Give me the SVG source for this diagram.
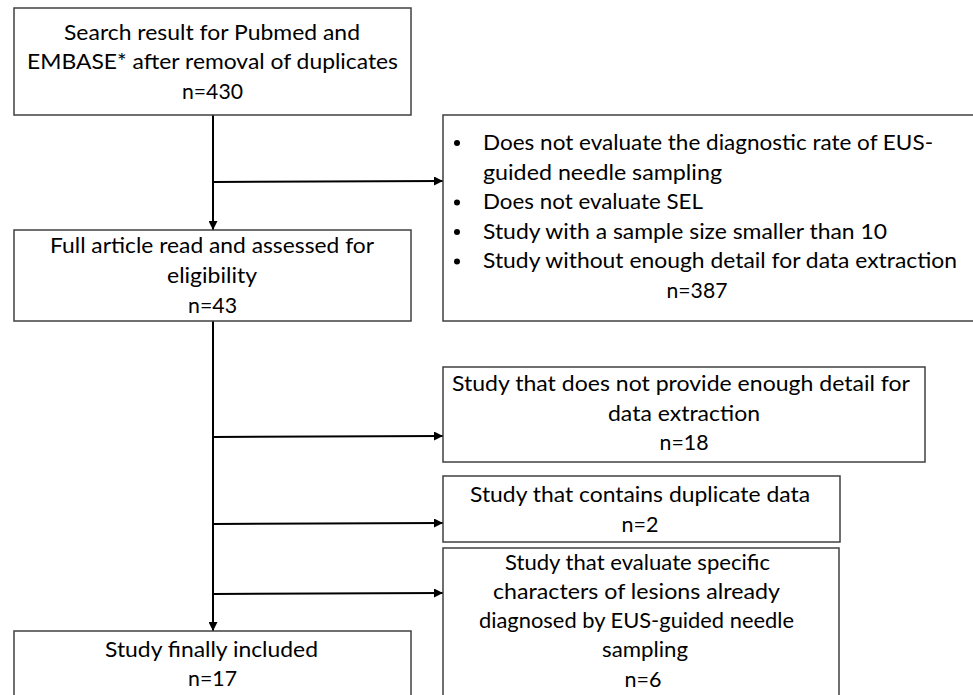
<svg xmlns="http://www.w3.org/2000/svg" width="973" height="695" viewBox="0 0 973 695">
<defs>
<marker id="ah" viewBox="0 0 10 10" refX="10" refY="5" markerWidth="5" markerHeight="4.5" orient="auto" markerUnits="strokeWidth"><path d="M0,0 L10,5 L0,10 z" fill="#000"/></marker>
<style>
.box{fill:#fff;stroke:#404040;stroke-width:1.5}
.t{font-family:Lato,"Liberation Sans",sans-serif;font-size:22px;fill:#000}
.c{text-anchor:middle}
.ln{stroke:#000;stroke-width:2;fill:none}
</style>
</defs>
<rect width="973" height="695" fill="#fff"/>
<g id="connectors">
<line class="ln" x1="213" y1="115" x2="213" y2="230" marker-end="url(#ah)"/>
<line class="ln" x1="213" y1="182" x2="443" y2="181" marker-end="url(#ah)"/>
<line class="ln" x1="213" y1="321" x2="213" y2="631" marker-end="url(#ah)"/>
<line class="ln" x1="213" y1="437" x2="443" y2="436" marker-end="url(#ah)"/>
<line class="ln" x1="213" y1="524" x2="443" y2="523" marker-end="url(#ah)"/>
<line class="ln" x1="213" y1="594" x2="443" y2="593" marker-end="url(#ah)"/>
</g>
<g id="search">
<rect class="box" x="14" y="8" width="397" height="107"/>
<text class="t c" x="212" y="40" textLength="296" lengthAdjust="spacingAndGlyphs">Search result for Pubmed and</text>
<text class="t c" x="212.5" y="69" textLength="371" lengthAdjust="spacingAndGlyphs">EMBASE* after removal of duplicates</text>
<text class="t c" x="212.5" y="99" textLength="61" lengthAdjust="spacingAndGlyphs">n=430</text>
</g>
<g id="fullarticle">
<rect class="box" x="14" y="230" width="397" height="91"/>
<text class="t c" x="212" y="253" textLength="324" lengthAdjust="spacingAndGlyphs">Full article read and assessed for</text>
<text class="t c" x="212" y="283" textLength="90" lengthAdjust="spacingAndGlyphs">eligibility</text>
<text class="t c" x="212.5" y="313" textLength="49" lengthAdjust="spacingAndGlyphs">n=43</text>
</g>
<g id="excluded1">
<rect class="box" x="443" y="115" width="560" height="206"/>
<text class="t" x="483" y="150" textLength="450" lengthAdjust="spacingAndGlyphs">Does not evaluate the diagnostic rate of EUS-</text>
<text class="t" x="483" y="179.5" textLength="239" lengthAdjust="spacingAndGlyphs">guided needle sampling</text>
<text class="t" x="483" y="209" textLength="220" lengthAdjust="spacingAndGlyphs">Does not evaluate SEL</text>
<text class="t" x="483" y="238.5" textLength="404" lengthAdjust="spacingAndGlyphs">Study with a sample size smaller than 10</text>
<text class="t" x="483" y="268" textLength="474" lengthAdjust="spacingAndGlyphs">Study without enough detail for data extraction</text>
<text class="t c" x="697" y="297.5" textLength="61" lengthAdjust="spacingAndGlyphs">n=387</text>
<circle cx="457" cy="143" r="3"/>
<circle cx="457" cy="202.5" r="3"/>
<circle cx="457" cy="232" r="3"/>
<circle cx="457" cy="261.5" r="3"/>
</g>
<g id="excluded2">
<rect class="box" x="443" y="367" width="482" height="95"/>
<text class="t c" x="681" y="391" textLength="458" lengthAdjust="spacingAndGlyphs">Study that does not provide enough detail for</text>
<text class="t c" x="684" y="421" textLength="152" lengthAdjust="spacingAndGlyphs">data extraction</text>
<text class="t c" x="684" y="450" textLength="49" lengthAdjust="spacingAndGlyphs">n=18</text>
</g>
<g id="excluded3">
<rect class="box" x="443" y="476" width="397" height="66"/>
<text class="t c" x="640" y="502" textLength="340" lengthAdjust="spacingAndGlyphs">Study that contains duplicate data</text>
<text class="t c" x="640" y="532" textLength="37" lengthAdjust="spacingAndGlyphs">n=2</text>
</g>
<g id="excluded4">
<rect class="box" x="443" y="548" width="396" height="160"/>
<text class="t c" x="637.5" y="570" textLength="265" lengthAdjust="spacingAndGlyphs">Study that evaluate specific</text>
<text class="t c" x="636.5" y="599" textLength="287" lengthAdjust="spacingAndGlyphs">characters of lesions already</text>
<text class="t c" x="636.5" y="628" textLength="315" lengthAdjust="spacingAndGlyphs">diagnosed by EUS-guided needle</text>
<text class="t c" x="645" y="657" textLength="86" lengthAdjust="spacingAndGlyphs">sampling</text>
<text class="t c" x="643" y="687" textLength="37" lengthAdjust="spacingAndGlyphs">n=6</text>
</g>
<g id="included">
<rect class="box" x="14" y="631" width="397" height="80"/>
<text class="t c" x="211.5" y="657" textLength="213" lengthAdjust="spacingAndGlyphs">Study finally included</text>
<text class="t c" x="212.5" y="686" textLength="49" lengthAdjust="spacingAndGlyphs">n=17</text>
</g>
</svg>
